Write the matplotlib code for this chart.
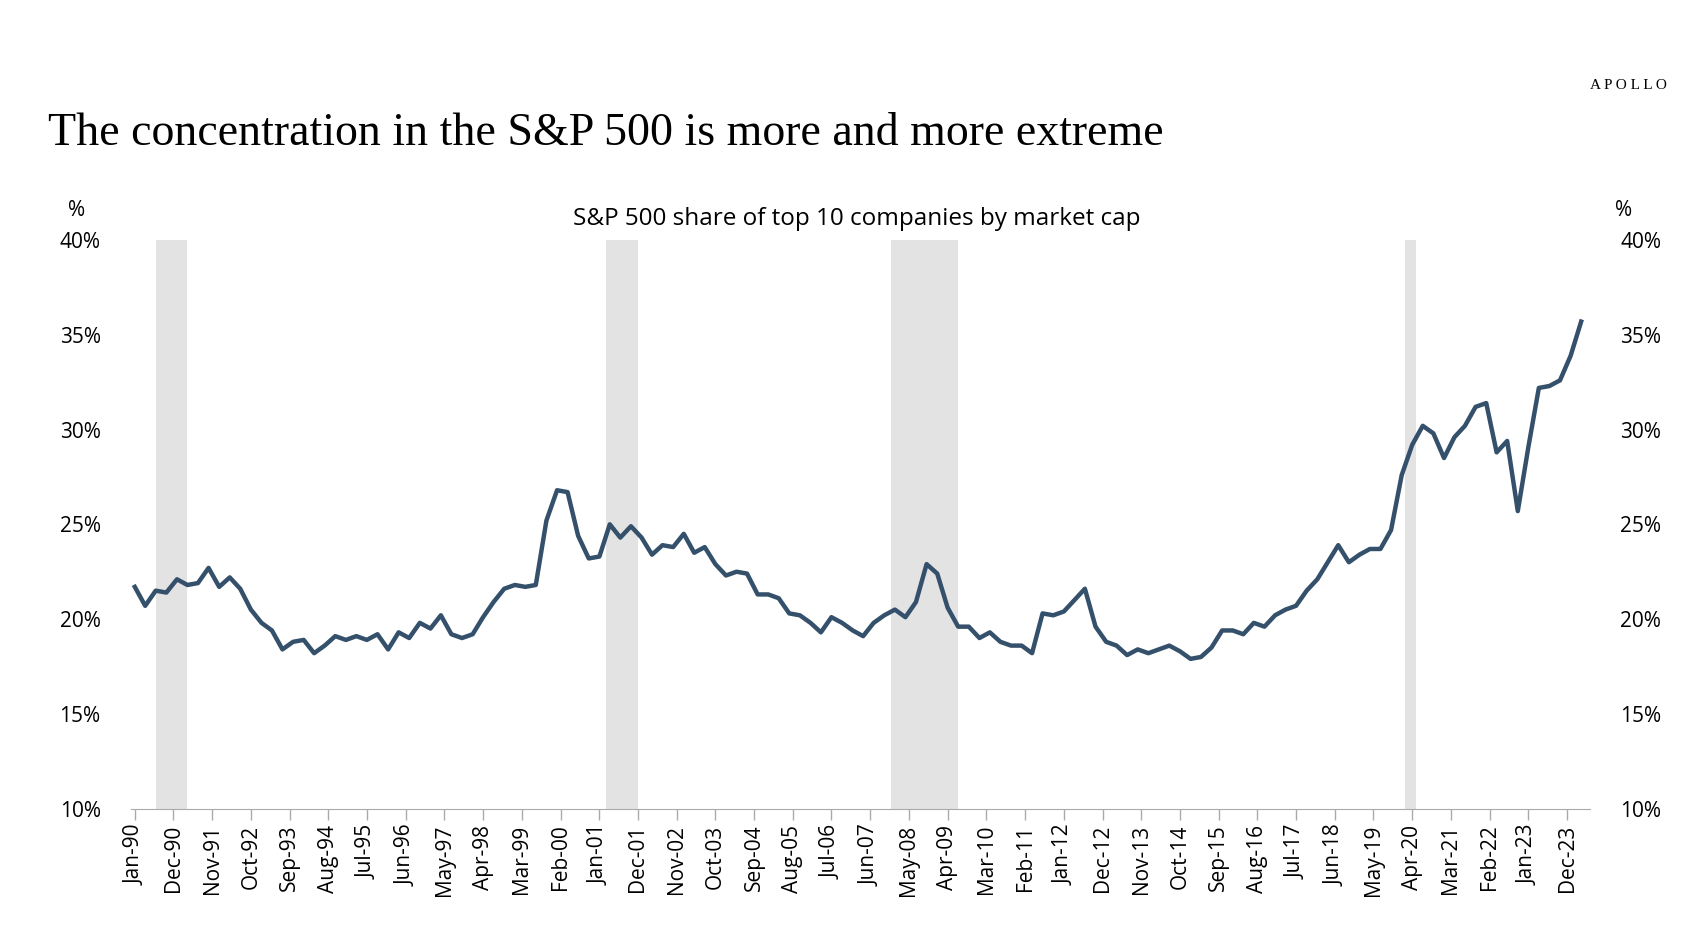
import numpy as np
import pandas as pd
import matplotlib.pyplot as plt

# quarterly share of top 10 companies, % (starting Jan-90)
share = [21.7, 20.7, 21.5, 21.4, 22.1, 21.8, 21.9, 22.7, 21.7, 22.2, 21.6, 20.5, 19.8, 19.4,
         18.4, 18.8, 18.9, 18.2, 18.6, 19.1, 18.9, 19.1, 18.9, 19.2, 18.4, 19.3, 19.0, 19.8,
         19.5, 20.2, 19.2, 19.0, 19.2, 20.1, 20.9, 21.6, 21.8, 21.7, 21.8, 25.2, 26.8, 26.7,
         24.4, 23.2, 23.3, 25.0, 24.3, 24.9, 24.3, 23.4, 23.9, 23.8, 24.5, 23.5, 23.8, 22.9,
         22.3, 22.5, 22.4, 21.3, 21.3, 21.1, 20.3, 20.2, 19.8, 19.3, 20.1, 19.8, 19.4, 19.1,
         19.8, 20.2, 20.5, 20.1, 20.9, 22.9, 22.4, 20.6, 19.6, 19.6, 19.0, 19.3, 18.8, 18.6,
         18.6, 18.2, 20.3, 20.2, 20.4, 21.0, 21.6, 19.6, 18.8, 18.6, 18.1, 18.4, 18.2, 18.4,
         18.6, 18.3, 17.9, 18.0, 18.5, 19.4, 19.4, 19.2, 19.8, 19.6, 20.2, 20.5, 20.7, 21.5,
         22.1, 23.0, 23.9, 23.0, 23.4, 23.7, 23.7, 24.7, 27.6, 29.2, 30.2, 29.8, 28.5, 29.6,
         30.2, 31.2, 31.4, 28.8, 29.4, 25.7, 29.1, 32.2, 32.3, 32.6, 33.9, 35.7]
dates = pd.date_range("1990-01-01", periods=len(share), freq="3MS")

recessions = [("1990-07-01", "1991-03-31"), ("2001-03-01", "2001-11-30"),
              ("2007-12-01", "2009-06-30"), ("2020-02-01", "2020-04-30")]

tick_dates = pd.date_range("1990-01-01", "2023-12-31", freq="11MS")

LINE = "#34506b"
plt.rcParams["font.family"] = ["Open Sans", "DejaVu Sans"]

fig = plt.figure(figsize=(17.04, 9.38), dpi=100)
ax = fig.add_axes([0.077, 0.138, 0.856, 0.606])
ax.set_ylim(10, 40)
ax.set_xlim(pd.Timestamp("1989-12-01"), pd.Timestamp("2024-06-15"))

for a, b in recessions:
    ax.axvspan(pd.Timestamp(a), pd.Timestamp(b), color="#e3e3e3", lw=0)
ax.plot(dates, share, color=LINE, lw=3.2)

ax.set_yticks(range(10, 45, 5))
ax.yaxis.set_major_formatter(lambda v, p: f"{v:.0f}%")
ax.tick_params(axis="y", length=0, labelsize=15, pad=22, labelright=True, right=False)
ax.set_xticks(tick_dates)
ax.set_xticklabels([d.strftime("%b-%y") for d in tick_dates], rotation=90, fontsize=15)
ax.tick_params(axis="x", length=8, color="#aaaaaa", width=1)
for s in ["top", "left", "right"]:
    ax.spines[s].set_visible(False)
ax.spines["bottom"].set_color("#aaaaaa")

fig.text(0.040, 0.770, "%", fontsize=15)
fig.text(0.948, 0.770, "%", fontsize=15)
fig.text(0.503, 0.760, "S&P 500 share of top 10 companies by market cap", fontsize=17.5, ha="center")
fig.text(0.028, 0.845, "The concentration in the S&P 500 is more and more extreme",
         fontsize=33, family=["Liberation Serif", "DejaVu Serif"])
fig.text(0.978, 0.905, "A P O L L O", fontsize=11, ha="right",
         family=["Liberation Serif", "DejaVu Serif"])

fig.savefig("out.png", dpi=100, facecolor="white")
